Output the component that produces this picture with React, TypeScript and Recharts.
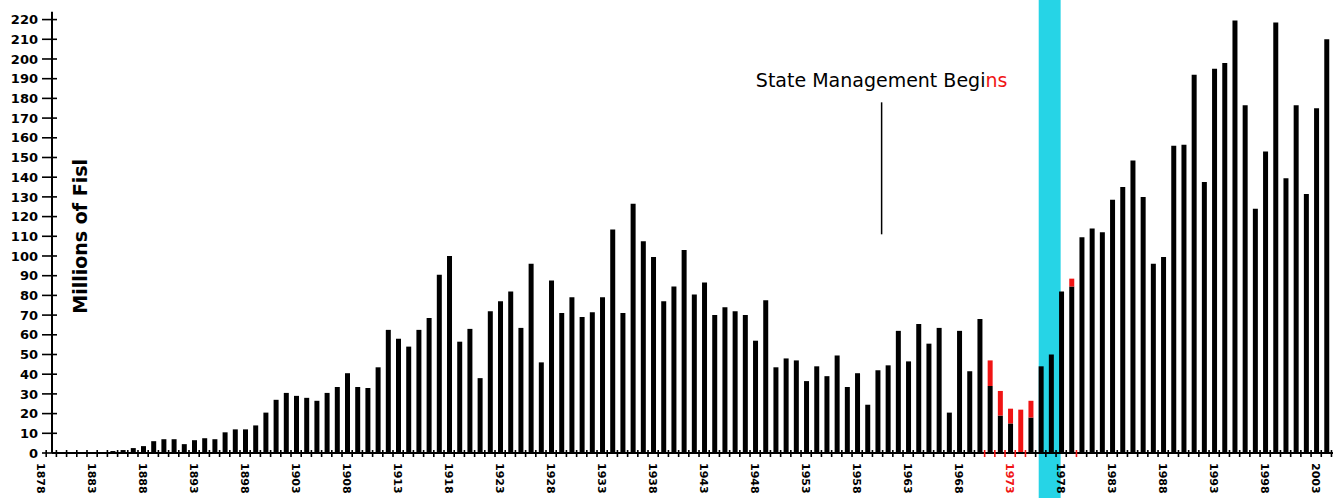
import React from 'react';
import { BarChart, Bar, XAxis, YAxis, ReferenceArea, ReferenceLine, Text } from 'recharts';

const START_YEAR = 1878;

// Millions of fish, one value per year 1878..2004 (black part of each bar)
const blackValues: number[] = [
  0, 0, 0, 0, 0, 0, 0, 1, 1.5, 2.5, // 1878-1887
  3.5, 6, 7, 7, 4.5, 6.5, 7.5, 7, 10.5, 12, // 1888-1897
  12, 14, 20.5, 27, 30.5, 29, 28, 26.5, 30.5, 33.5, // 1898-1907
  40.5, 33.5, 33, 43.5, 62.5, 58, 54, 62.5, 68.5, 90.5, // 1908-1917
  100, 56.5, 63, 38, 72, 77, 82, 63.5, 96, 46, // 1918-1927
  87.5, 71, 79, 69, 71.5, 79, 113.5, 71, 126.5, 107.5, // 1928-1937
  99.5, 77, 84.5, 103, 80.5, 86.5, 70, 74, 72, 70, // 1938-1947
  57, 77.5, 43.5, 48, 47, 36.5, 44, 39, 49.5, 33.5, // 1948-1957
  40.5, 24.5, 42, 44.5, 62, 46.5, 65.5, 55.5, 63.5, 20.5, // 1958-1967
  62, 41.5, 68, 34, 19, 15, 0, 18, 44, 50, // 1968-1977
  82, 84.5, 109.5, 114, 112, 128.5, 135, 148.5, 130, 96, // 1978-1987
  99.5, 156, 156.5, 192, 137.5, 195, 198, 219.5, 176.5, 124, // 1988-1997
  153, 218.5, 139.5, 176.5, 131.5, 175, 210, // 1998-2004
];

// Red portion stacked on top of the black bars
const redYears: number[] = [1971, 1972, 1973, 1974, 1975, 1979];
const redValues: number[] = [13, 12.5, 7.5, 22, 8.5, 4];

const yTicks: number[] = [0, 10, 20, 30, 40, 50, 60, 70, 80, 90, 100, 110, 120, 130, 140, 150, 160, 170, 180, 190, 200, 210, 220];
const labelYears: number[] = [1878, 1883, 1888, 1893, 1898, 1903, 1908, 1913, 1918, 1923, 1928, 1933, 1938, 1943, 1948, 1953, 1958, 1963, 1968, 1973, 1978, 1983, 1988, 1993, 1998, 2003];
const redLabelYears: number[] = [1973];

const bandStart = 1975.8;
const bandEnd = 1977.95;
const annotationYear = 1960.4;
const annotationText = 'State Management Begi';
const annotationTextRed = 'ns';
const yTitle = 'Millions of Fisl';

const RED = '#f01414';
const CYAN = '#26d4e6';
const FONT = '"DejaVu Sans", "Liberation Sans", Arial, sans-serif';
const X_DOMAIN: [number, number] = [1879.07, 2004.65];

const years = blackValues.map((_, i) => START_YEAR + i);
const data = years.map((year, i) => {
  const r = redYears.indexOf(year);
  return { year, black: blackValues[i], red: r >= 0 ? redValues[r] : 0 };
});

const halfTicks = years.map((y) => y + 0.5).filter((v) => v < 2004.6);
const xTicks = [...labelYears, ...halfTicks];

const isRedHalf = (v: number) => (v >= 1970.5 && v <= 1974.5) || v === 1979.5;

const XTick = (props: any) => {
  const { x, y, payload } = props;
  const v = payload.value as number;
  if (v % 1 !== 0) {
    return <line x1={x} x2={x} y1={y - 3} y2={y + 4} stroke={isRedHalf(v) ? RED : '#000'} strokeWidth={1.6} />;
  }
  return (
    <Text
      x={x}
      y={y + 10}
      angle={90}
      textAnchor="start"
      verticalAnchor="middle"
      fontFamily={FONT}
      fontWeight="bold"
      fontSize={11}
      fill={redLabelYears.includes(v) ? RED : '#000'}
    >
      {String(v)}
    </Text>
  );
};

const YTick = (props: any) => {
  const { x, y, payload } = props;
  return (
    <g>
      <line x1={x - 10} x2={x + 5} y1={y} y2={y} stroke="#000" strokeWidth={1.6} />
      <text
        x={x - 14}
        y={y}
        dy="0.36em"
        textAnchor="end"
        fontFamily={FONT}
        fontWeight="bold"
        fontSize={13}
        fill="#000"
      >
        {payload.value}
      </text>
    </g>
  );
};

const YTitle = (props: any) => {
  const vb = props.viewBox || { x: 0, y: 0, width: 52, height: 441 };
  const cx = vb.x + vb.width + 28;
  const cy = vb.y + vb.height / 2 + 4;
  return (
    <text
      x={cx}
      y={cy}
      transform={`rotate(-90, ${cx}, ${cy})`}
      textAnchor="middle"
      dominantBaseline="central"
      fontFamily={FONT}
      fontWeight="bold"
      fontSize={19}
      fill="#000"
    >
      {yTitle}
    </text>
  );
};

const AnnotationLabel = (props: any) => {
  const vb = props.viewBox || { x: 0, y: 0 };
  return (
    <text
      x={vb.x}
      y={vb.y - 15}
      textAnchor="middle"
      fontFamily={FONT}
      fontSize={19}
      fill="#000"
    >
      {annotationText}
      <tspan fill={RED}>{annotationTextRed}</tspan>
    </text>
  );
};

export default function App() {
  return (
    <div style={{ position: 'absolute', left: 0, top: 0, background: '#fff' }}>
      <BarChart
        width={1333}
        height={498}
        data={data}
        margin={{ top: 11.7, right: 0, bottom: 0, left: 0 }}
        barSize={5}
      >
        <ReferenceArea
          x1={bandStart}
          x2={bandEnd}
          y1={-23}
          y2={230}
          ifOverflow="visible"
          fill={CYAN}
          fillOpacity={1}
          stroke="none"
        />
        <Bar dataKey="black" stackId="s" fill="#000" isAnimationActive={false} />
        <Bar dataKey="red" stackId="s" fill={RED} isAnimationActive={false} />
        <ReferenceLine
          segment={[
            { x: annotationYear, y: 111 },
            { x: annotationYear, y: 178 },
          ]}
          stroke="#000"
          strokeWidth={1.5}
          ifOverflow="visible"
          label={{ content: AnnotationLabel }}
        />
        <XAxis
          type="number"
          dataKey="year"
          domain={X_DOMAIN}
          allowDataOverflow
          ticks={xTicks}
          interval={0}
          tickSize={0}
          tickMargin={0}
          tickLine={false}
          tick={XTick}
          axisLine={{ stroke: '#000', strokeWidth: 2 }}
          height={45}
        />
        <YAxis
          type="number"
          domain={[0, 224]}
          ticks={yTicks}
          interval={0}
          tickSize={0}
          tickMargin={0}
          tickLine={false}
          tick={<YTick />}
          axisLine={{ stroke: '#000', strokeWidth: 2 }}
          width={52}
          label={{ content: YTitle }}
        />
        <ReferenceLine
          segment={[
            { x: 1970.5, y: 0 },
            { x: 1975.3, y: 0 },
          ]}
          stroke={RED}
          strokeWidth={2}
          ifOverflow="visible"
        />
      </BarChart>
    </div>
  );
}
